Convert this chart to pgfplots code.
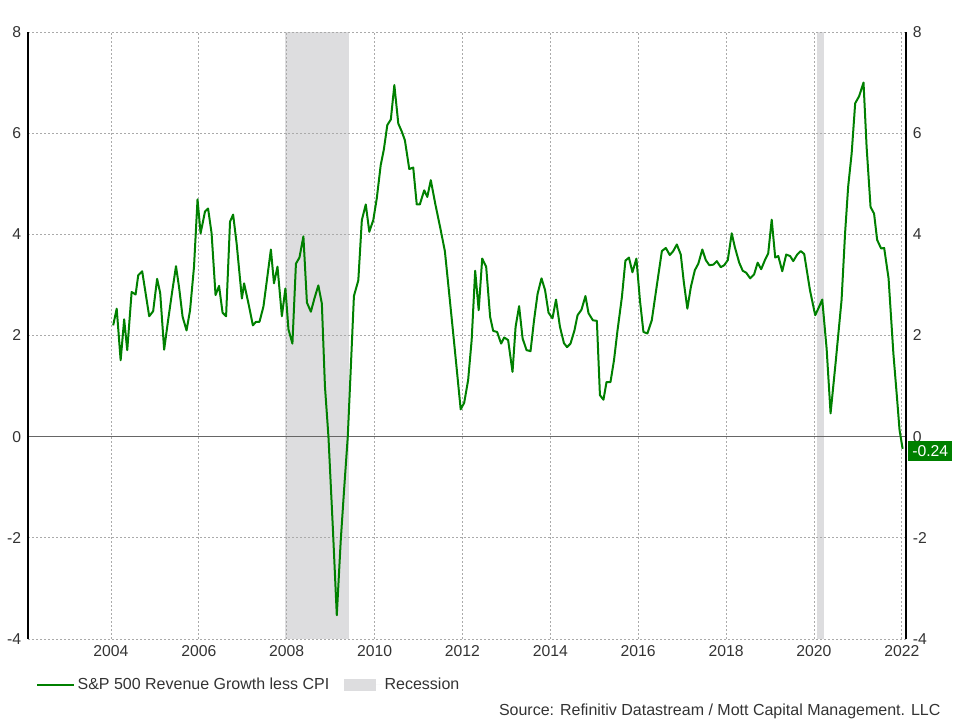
\documentclass[border=0pt]{standalone}
\usepackage{pgfplots}
\pgfplotsset{compat=1.18}
\usepackage{fontspec}
\setmainfont{Liberation Sans}
\definecolor{sgreen}{RGB}{0,128,0}
\definecolor{recgray}{RGB}{221,221,223}
\definecolor{gridc}{RGB}{170,170,170}
\definecolor{txt}{RGB}{51,51,51}
\pgfplotsset{
  lineleg/.style={legend image code/.code={\draw[##1] (0pt,0pt) -- (26pt,0pt); \path (0pt,0pt) -- (27.5pt,0pt);}},
  boxleg/.style={legend image code/.code={\fill[##1] (0pt,-4.75pt) rectangle (24pt,4.75pt); \path (0pt,0pt) -- (28.5pt,0pt);}},
}
\begin{document}
\fontsize{12}{14}\selectfont
\begin{tikzpicture}
\path (-21pt,-60.75pt) rectangle (699pt,479.25pt);
\pgfplotsset{
  base/.style={
    width=658.5pt, height=455.25pt, scale only axis,
    xmin=2002.111, xmax=2022.097, ymin=-4, ymax=8,
    xtick={2004,2006,...,2022}, ytick={-4,-2,...,8},
    major tick length=0pt,
    /pgf/number format/assume math mode=true,
    /pgf/number format/1000 sep={},
    tick label style={font=\fontsize{11.8}{14}\selectfont, text=txt},
    axis line style={draw=none},
    clip=false,
  }
}
\begin{axis}[base, set layers,
  grid=major,
  major grid style={gridc, line width=0.6pt, dash pattern=on 1.5pt off 1.5pt},
  ytick pos=left,
  yticklabel style={anchor=east, xshift=-1pt},
  xticklabel style={anchor=north, yshift=-1pt},
  legend style={at={(axis description cs:0,0)}, anchor=north west,
    xshift=6pt, yshift=-27pt, draw=none, fill=none, inner sep=0pt,
    font=\fontsize{12}{14}\selectfont, text=txt,
    /tikz/every even column/.append style={column sep=9pt}},
  legend columns=2, legend cell align=left,
]
\addplot[on layer=axis background, draw=none, fill=recgray, forget plot]
  coordinates {(2007.96,-4) (2007.96,8) (2009.42,8) (2009.42,-4)} -- cycle;
\addplot[on layer=axis background, draw=none, fill=recgray, forget plot]
  coordinates {(2020.08,-4) (2020.08,8) (2020.24,8) (2020.24,-4)} -- cycle;
\draw[gray!80!black, line width=0.75pt] (axis cs:2002.111,0) -- (axis cs:2022.097,0);
\draw[black, line width=1.1pt] (axis cs:2002.111,-4) -- (axis cs:2002.111,8);
\draw[black, line width=1.1pt] (axis cs:2022.097,-4) -- (axis cs:2022.097,8);
\addplot[sgreen, line width=1.5pt, line join=round, forget plot] table {
2004.05 2.20
2004.13 2.53
2004.22 1.51
2004.30 2.32
2004.37 1.71
2004.47 2.86
2004.56 2.81
2004.62 3.19
2004.71 3.27
2004.87 2.38
2004.96 2.48
2005.05 3.12
2005.12 2.84
2005.21 1.72
2005.30 2.30
2005.39 2.85
2005.48 3.37
2005.55 2.95
2005.63 2.37
2005.72 2.10
2005.80 2.50
2005.89 3.36
2005.97 4.69
2006.04 4.02
2006.14 4.45
2006.21 4.51
2006.29 4.02
2006.38 2.80
2006.46 2.98
2006.54 2.45
2006.62 2.38
2006.71 4.25
2006.78 4.39
2006.86 3.82
2006.98 2.73
2007.03 3.03
2007.13 2.63
2007.23 2.20
2007.30 2.27
2007.38 2.27
2007.47 2.57
2007.55 3.10
2007.64 3.70
2007.71 3.03
2007.79 3.36
2007.89 2.38
2007.97 2.93
2008.04 2.12
2008.13 1.84
2008.21 3.42
2008.29 3.54
2008.38 3.96
2008.46 2.65
2008.55 2.47
2008.63 2.73
2008.72 2.99
2008.80 2.63
2008.87 1.00
2008.95 0.00
2009.05 -1.80
2009.14 -3.53
2009.23 -2.05
2009.31 -1.00
2009.39 0.00
2009.46 1.38
2009.53 2.78
2009.63 3.09
2009.71 4.28
2009.80 4.59
2009.88 4.05
2009.97 4.28
2010.05 4.71
2010.14 5.37
2010.21 5.67
2010.29 6.16
2010.37 6.27
2010.45 6.95
2010.54 6.19
2010.62 6.03
2010.69 5.86
2010.79 5.29
2010.88 5.32
2010.96 4.59
2011.03 4.59
2011.13 4.87
2011.20 4.74
2011.28 5.07
2011.38 4.61
2011.49 4.15
2011.60 3.67
2011.69 2.90
2011.79 2.04
2011.88 1.25
2011.96 0.54
2012.04 0.67
2012.13 1.12
2012.21 1.91
2012.29 3.28
2012.37 2.50
2012.45 3.52
2012.54 3.36
2012.63 2.37
2012.70 2.09
2012.79 2.07
2012.88 1.84
2012.95 1.96
2013.04 1.91
2013.14 1.28
2013.21 2.17
2013.29 2.58
2013.37 1.94
2013.46 1.71
2013.55 1.69
2013.63 2.30
2013.71 2.82
2013.80 3.13
2013.88 2.90
2013.96 2.45
2014.05 2.34
2014.13 2.71
2014.22 2.17
2014.31 1.85
2014.38 1.77
2014.46 1.84
2014.55 2.10
2014.62 2.40
2014.71 2.51
2014.80 2.78
2014.87 2.44
2014.97 2.30
2015.06 2.29
2015.13 0.82
2015.21 0.73
2015.28 1.08
2015.37 1.08
2015.45 1.51
2015.53 2.10
2015.63 2.76
2015.71 3.48
2015.79 3.54
2015.87 3.25
2015.96 3.52
2016.04 2.70
2016.12 2.07
2016.21 2.04
2016.31 2.30
2016.42 2.96
2016.54 3.67
2016.63 3.73
2016.72 3.59
2016.80 3.67
2016.88 3.80
2016.97 3.60
2017.04 3.05
2017.12 2.53
2017.20 2.96
2017.29 3.29
2017.37 3.42
2017.46 3.70
2017.54 3.49
2017.62 3.39
2017.71 3.40
2017.79 3.47
2017.88 3.35
2017.96 3.39
2018.04 3.49
2018.13 4.02
2018.20 3.75
2018.30 3.44
2018.38 3.28
2018.46 3.24
2018.55 3.13
2018.64 3.21
2018.72 3.44
2018.80 3.31
2018.89 3.50
2018.96 3.62
2019.04 4.29
2019.12 3.54
2019.19 3.57
2019.28 3.27
2019.37 3.60
2019.46 3.57
2019.53 3.47
2019.62 3.60
2019.70 3.67
2019.78 3.61
2019.91 2.90
2020.03 2.40
2020.11 2.55
2020.19 2.71
2020.29 1.74
2020.38 0.46
2020.50 1.51
2020.63 2.70
2020.71 4.02
2020.78 4.94
2020.86 5.60
2020.94 6.59
2021.03 6.73
2021.13 7.00
2021.20 5.73
2021.29 4.54
2021.37 4.41
2021.44 3.89
2021.53 3.72
2021.60 3.73
2021.70 3.13
2021.81 1.64
2021.89 0.79
2021.95 0.13
2022.02 -0.24
};
\addlegendimage{sgreen, line width=1.5pt, lineleg}
\addlegendentry{S\&P 500 Revenue Growth less CPI}
\addlegendimage{draw=none, fill=recgray, boxleg}
\addlegendentry{Recession}
\node[anchor=east, text=txt, font=\fontsize{12}{14}\selectfont] at ([xshift=30pt, yshift=-54pt]axis description cs:1,0) {Source: Refinitiv Datastream / Mott Capital Management. LLC};
\end{axis}
\begin{axis}[base,
  xtick=\empty,
  ytick pos=right, yticklabel pos=right,
  yticklabel style={anchor=west, xshift=1pt},
]
\addplot[draw=none, forget plot] coordinates {(2010,0) (2012,1)};
\node[fill=sgreen, text=white, anchor=west, inner xsep=3pt, inner ysep=2.5pt, minimum height=15pt, font=\fontsize{11.8}{14}\selectfont] at ([xshift=1.5pt]axis cs:2022.097,-0.29) {-0.24};
\end{axis}
\end{tikzpicture}
\end{document}
